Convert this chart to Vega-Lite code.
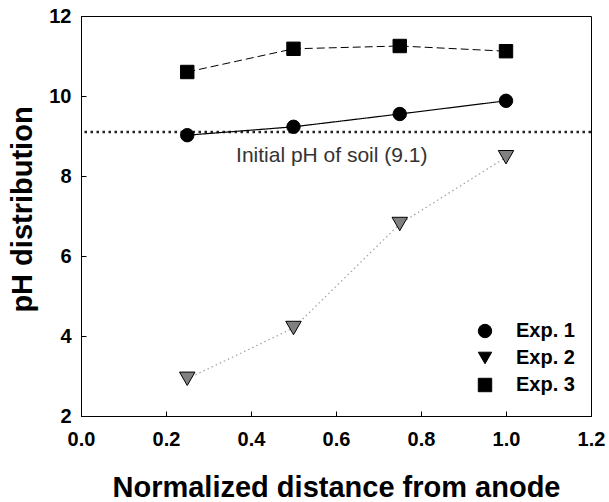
{
  "$schema": "https://vega.github.io/schema/vega-lite/v6.json",
  "width": 510,
  "height": 400,
  "autosize": {"type": "none"},
  "padding": {"left": 81, "top": 16, "right": 18, "bottom": 86},
  "background": "white",
  "config": {
    "font": "Liberation Sans",
    "view": {"stroke": "black", "strokeWidth": 1},
    "axis": {"grid": false, "domainColor": "black", "tickColor": "black", "labelColor": "black", "titleColor": "black"}
  },
  "datasets": {
    "series": [
      {"series": "Exp. 1", "x": 0.25, "y": 9.02},
      {"series": "Exp. 1", "x": 0.5, "y": 9.23},
      {"series": "Exp. 1", "x": 0.75, "y": 9.55},
      {"series": "Exp. 1", "x": 1.0, "y": 9.88},
      {"series": "Exp. 2", "x": 0.25, "y": 2.93},
      {"series": "Exp. 2", "x": 0.5, "y": 4.2},
      {"series": "Exp. 2", "x": 0.75, "y": 6.8},
      {"series": "Exp. 2", "x": 1.0, "y": 8.47},
      {"series": "Exp. 3", "x": 0.25, "y": 10.6},
      {"series": "Exp. 3", "x": 0.5, "y": 11.18},
      {"series": "Exp. 3", "x": 0.75, "y": 11.25},
      {"series": "Exp. 3", "x": 1.0, "y": 11.12}
    ],
    "note": [{"x": 0.59, "y": 8.5, "label": "Initial pH of soil (9.1)"}],
    "initial": [{"y": 9.1}]
  },
  "encoding": {
    "x": {
      "field": "x", "type": "quantitative",
      "scale": {"domain": [0, 1.2], "nice": false, "zero": false},
      "axis": {
        "title": "Normalized distance from anode",
        "values": [0, 0.2, 0.4, 0.6, 0.8, 1.0, 1.2],
        "format": ".1f",
        "tickSize": -5,
        "labelPadding": 18,
        "labelFontSize": 20, "labelFontWeight": "bold",
        "labelFlush": false,
        "titleFontSize": 29, "titleFontWeight": "bold",
        "titlePadding": 24
      }
    },
    "y": {
      "field": "y", "type": "quantitative",
      "scale": {"domain": [2, 12], "nice": false, "zero": false},
      "axis": {
        "title": "pH distribution",
        "values": [2, 4, 6, 8, 10, 12],
        "tickSize": -5,
        "labelPadding": 15,
        "labelFontSize": 20, "labelFontWeight": "bold",
        "labelFlush": false,
        "titleFontSize": 29, "titleFontWeight": "bold",
        "titlePadding": 11,
        "titleY": 193
      }
    }
  },
  "layer": [
    {
      "data": {"name": "initial"},
      "mark": {"type": "rule", "stroke": "#222", "strokeWidth": 2.5, "strokeDash": [2.5, 3.5]},
      "encoding": {"x": null, "y": {"field": "y", "type": "quantitative"}}
    },
    {
      "data": {"name": "series"},
      "mark": {"type": "line"},
      "encoding": {
        "detail": {"field": "series"},
        "stroke": {"condition": {"test": "datum.series === 'Exp. 2'", "value": "#a0a0a0"}, "value": "black"},
        "strokeDash": {"condition": [{"test": "datum.series === 'Exp. 2'", "value": [1.5, 3]}, {"test": "datum.series === 'Exp. 3'", "value": [8, 4]}], "value": [1, 0]},
        "strokeWidth": {"condition": {"test": "datum.series === 'Exp. 3'", "value": 1}, "value": 1.2}
      }
    },
    {
      "data": {"name": "series"},
      "mark": {"type": "point", "filled": true, "stroke": "black", "strokeWidth": 1, "opacity": 1},
      "encoding": {
        "shape": {
          "field": "series", "type": "nominal",
          "scale": {"domain": ["Exp. 1", "Exp. 2", "Exp. 3"], "range": ["circle", "triangle-down", "square"]},
          "legend": {
            "title": null,
            "orient": "none",
            "legendX": 394,
            "legendY": 305,
            "padding": 0,
            "symbolSize": 180,
            "symbolStrokeWidth": 1,
            "labelOffset": 21,
            "labelFontSize": 20,
            "labelFontWeight": "bold",
            "labelColor": "black",
            "rowPadding": 7
          }
        },
        "fill": {"condition": {"test": "datum.series === 'Exp. 2'", "value": "#808080"}, "value": "black"},
        "size": {"condition": {"test": "datum.series === 'Exp. 2'", "value": 240}, "value": 180}
      }
    },
    {
      "data": {"name": "note"},
      "mark": {"type": "text", "fontSize": 21, "color": "#333", "baseline": "middle", "align": "center"},
      "encoding": {"text": {"field": "label"}}
    }
  ]
}
